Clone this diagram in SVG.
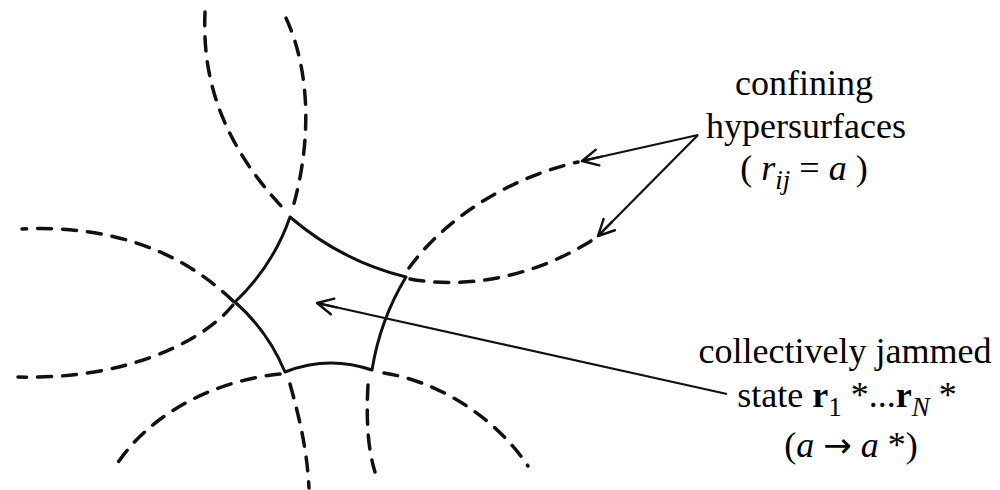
<svg xmlns="http://www.w3.org/2000/svg" width="1000" height="490" viewBox="0 0 1000 490">
<style>
.edge{fill:none;stroke:#111;stroke-width:3;stroke-linejoin:round;stroke-linecap:round}
.dash{fill:none;stroke:#111;stroke-width:3.5;stroke-dasharray:14 11;stroke-linecap:round}
.arr{fill:none;stroke:#111;stroke-width:2.2}
.lbl{font-family:"Liberation Serif","Times New Roman",serif;font-size:36px;fill:#000;text-anchor:middle}
.it{font-style:italic}
.bd{font-weight:bold}
.sub{font-size:27px}
.ar{font-family:"DejaVu Sans",sans-serif;font-size:34px}
</style>
<defs>
<marker id="ah" markerUnits="userSpaceOnUse" markerWidth="26" markerHeight="20" refX="24" refY="10" orient="auto" viewBox="0 0 26 20">
<path d="M8,2 L24,10 L8,18 M24,10 L4,10" fill="none" stroke="#111" stroke-width="2.4" stroke-linecap="round" stroke-linejoin="round"/>
</marker>
</defs>
<g id="hypersurfaces">
<path class="dash" d="M205,12 C203,60 210,130 282,207"/>
<path class="dash" d="M286,18 C310,70 312,140 293,207"/>
<path class="dash" d="M409,268 C440,225 500,180 578,162"/>
<path class="dash" d="M410,279 C470,290 540,275 597,237"/>
<path class="dash" d="M233,301 C180,250 110,225 22,229"/>
<path class="dash" d="M233,305 C200,345 120,380 18,377"/>
<path class="dash" d="M280,374 C220,380 150,410 113,470"/>
<path class="dash" d="M290,384 C300,420 307,450 309,488"/>
<path class="dash" d="M368,385 C366,420 368,450 375,472"/>
<path class="dash" d="M384,373 C430,380 490,410 528,466"/>
</g>
<g id="jammed-region">
<path class="edge" d="M290,217 Q341,261 406,277 Q380,320 372,370 Q328,355 285,372 Q268,331 235,302 Q273,266 290,217 Z"/>
</g>
<g id="connectors">
<line class="arr" x1="727" y1="394" x2="317" y2="303" marker-end="url(#ah)"/>
<line class="arr" x1="698" y1="135" x2="582" y2="161" marker-end="url(#ah)"/>
<line class="arr" x1="698" y1="135" x2="598" y2="236" marker-end="url(#ah)"/>
</g>
<g id="label-hypersurfaces">
<text class="lbl" x="804" y="95">confining</text>
<text class="lbl" x="806" y="138">hypersurfaces</text>
<text class="lbl" x="804" y="180">( <tspan class="it">r</tspan><tspan class="it sub" dy="9">ij</tspan><tspan dy="-9"> = </tspan><tspan class="it">a</tspan> )</text>
</g>
<g id="label-jammed">
<text class="lbl" x="845" y="363">collectively jammed</text>
<text class="lbl" x="847" y="407">state <tspan class="bd">r</tspan><tspan class="sub" dy="9">1</tspan><tspan dy="-9"> *...</tspan><tspan class="bd">r</tspan><tspan class="it sub" dy="9">N</tspan><tspan dy="-9"> *</tspan></text>
<text class="lbl" x="851" y="457">(<tspan class="it">a</tspan> <tspan class="ar">→</tspan> <tspan class="it">a</tspan> *)</text>
</g>
</svg>
